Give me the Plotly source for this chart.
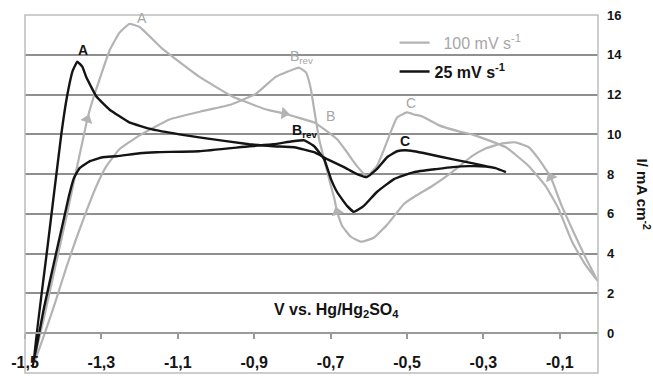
import plotly.graph_objects as go

# Cyclic voltammograms: potential (V vs. Hg/Hg2SO4) and current density (mA cm-2)
# 100 mV/s scan: forward sweep to 0 V, then the reverse sweep back to -1.48 V
v_100 = [-1.48, -1.45, -1.42, -1.39, -1.36, -1.337, -1.32, -1.305, -1.279,
         -1.253, -1.227, -1.20, -1.14, -1.044, -0.957, -0.869, -0.821, -0.795, -0.743,
         -0.709, -0.683, -0.657, -0.631, -0.605, -0.579, -0.56, -0.542, -0.526, -0.50,
         -0.482, -0.46, -0.416, -0.364, -0.33, -0.241, -0.181, -0.137, -0.103,
         -0.068, -0.035, 0.0,
         -0.03, -0.062, -0.095, -0.124, -0.155, -0.181, -0.216, -0.25, -0.293,
         -0.33, -0.382, -0.434, -0.482, -0.508, -0.552, -0.587, -0.62, -0.647, -0.67,
         -0.683, -0.69, -0.704, -0.717, -0.73, -0.743, -0.752, -0.764, -0.782, -0.80,
         -0.843, -0.895, -0.96, -1.04, -1.122, -1.20, -1.253, -1.287, -1.313, -1.34,
         -1.366, -1.392, -1.42, -1.45, -1.48]
i_100 = [-1.7, 0.8, 3.4, 6.0, 8.7, 10.75, 11.9, 12.75, 14.2,
         15.1, 15.55, 15.4, 14.3, 12.9, 11.9, 11.25, 11.05, 10.9, 10.6,
         10.15, 9.75, 9.1, 8.4, 7.9, 8.4, 9.25, 10.15, 10.85, 11.1,
         11.0, 10.9, 10.45, 10.15, 10.0, 9.35, 8.4, 7.4, 6.25,
         4.6, 3.5, 2.6,
         3.7, 5.0, 6.4, 7.85, 8.75, 9.35, 9.6, 9.55, 9.3,
         8.9, 8.1, 7.4, 6.85, 6.5, 5.45, 4.8, 4.6, 4.85, 5.4,
         6.1, 6.75, 7.75, 8.75, 9.75, 11.25, 12.3, 13.1, 13.35, 13.25,
         12.9, 12.05, 11.5, 11.15, 10.75, 9.95, 9.25, 8.4, 7.4, 6.1,
         4.75, 3.3, 1.6, -0.1, -1.7]

# 25 mV/s scan: forward sweep to -0.24 V, then the reverse sweep
v_25 = [-1.48, -1.44, -1.405, -1.39, -1.375, -1.363, -1.35, -1.34,
        -1.313, -1.279, -1.227, -1.167, -1.096, -1.044, -0.913, -0.85, -0.795, -0.743,
        -0.709, -0.665, -0.631, -0.605, -0.579, -0.552, -0.526, -0.505, -0.482, -0.442,
        -0.382, -0.33, -0.293, -0.268, -0.241,
        -0.268, -0.293, -0.338, -0.38, -0.424, -0.482, -0.534, -0.579, -0.613, -0.639,
        -0.657, -0.683, -0.699, -0.717, -0.743, -0.769, -0.80, -0.85, -0.913, -1.044,
        -1.157, -1.20, -1.26, -1.297, -1.33, -1.357, -1.372, -1.385, -1.40, -1.42,
        -1.45, -1.48]
i_25 = [-1.7, 4.5, 10.0, 11.9, 13.2, 13.65, 13.4, 12.9,
        11.9, 11.25, 10.6, 10.25, 10.0, 9.85, 9.5, 9.4, 9.35, 9.1,
        8.75, 8.35, 8.0, 7.85, 8.25, 8.85, 9.15, 9.2, 9.15, 9.0,
        8.75, 8.55, 8.4, 8.3, 8.1,
        8.3, 8.38, 8.4, 8.35, 8.25, 8.1, 7.75, 7.1, 6.4, 6.1,
        6.4, 7.1, 7.75, 8.75, 9.4, 9.7, 9.65, 9.5, 9.4, 9.15,
        9.1, 9.05, 8.9, 8.85, 8.65, 8.3, 7.8, 6.9, 5.6, 3.9,
        1.3, -1.7]

# Scan-direction arrows on the 100 mV/s curve (position and heading in degrees)
arrow_v = [-1.337, -0.821, -0.683, -0.124]
arrow_i = [10.75, 11.05, 6.1, 7.85]
arrow_heading = [19, 98, -16, -25]

# Peak labels
peak_text = ["A", "<b>A</b>", "B<sub>rev</sub>", "B", "<b>B<sub>rev</sub></b>", "C", "<b>C</b>"]
peak_v = [-1.193, -1.347, -0.777, -0.699, -0.769, -0.49, -0.505]
peak_i = [15.85, 14.25, 13.9, 10.9, 10.15, 11.6, 9.65]
peak_series = ["100", "25", "100", "100", "25", "100", "25"]

x_ticks = [-1.5, -1.3, -1.1, -0.9, -0.7, -0.5, -0.3, -0.1]
x_ticktext = ["-1,5", "-1,3", "-1,1", "-0,9", "-0,7", "-0,5", "-0,3", "-0,1"]
y_ticks = [-2, 0, 2, 4, 6, 8, 10, 12, 14, 16]

GRAY = "#b3b3b3"
BLACK = "#141414"
FONT = "Liberation Sans, Arial, sans-serif"

fig = go.Figure()

fig.add_trace(go.Scatter(
    x=v_100, y=i_100, mode="lines", line=dict(color=GRAY, width=2.2, shape="spline", smoothing=0.35),
    name="<span style='color:#a6a6a6'>  100 mV s<sup>-1</sup></span>", legendgroup="g100",
))
fig.add_trace(go.Scatter(
    x=v_25, y=i_25, mode="lines", line=dict(color=BLACK, width=2.4, shape="spline", smoothing=0.35),
    name="<b>25 mV s<sup>-1</sup></b>", legendgroup="g25",
))
fig.add_trace(go.Scatter(
    x=arrow_v, y=arrow_i, mode="markers", showlegend=False, hoverinfo="skip",
    marker=dict(symbol="triangle-up", size=11, color=GRAY, angle=arrow_heading),
))

for t, v, i, s in zip(peak_text, peak_v, peak_i, peak_series):
    fig.add_annotation(
        x=v, y=i, text=t, showarrow=False,
        font=dict(family=FONT, size=14, color="#a6a6a6" if s == "100" else BLACK),
    )

# Axis title for potential, drawn inside the plot above the zero line
fig.add_annotation(
    xref="paper", yref="paper", x=0.431, y=0.1425, xanchor="left",
    text="<b>V vs. Hg/Hg<sub>2</sub>SO<sub>4</sub></b>", showarrow=False,
    font=dict(family=FONT, size=16, color=BLACK),
)
# Current-density title, read top to bottom on the right
fig.add_annotation(
    xref="paper", yref="paper", x=1.061, y=0.5, xanchor="left", textangle=90,
    text="<b>I/ mA cm<sup>-2</sup></b>", showarrow=False,
    font=dict(family=FONT, size=15, color=BLACK),
)

# Light plot frame (drawn over the outer gridlines) and the darker 4 mA cm-2 gridline
fig.add_shape(type="rect", xref="paper", yref="paper", x0=0, x1=1, y0=0, y1=1,
              line=dict(color="#bdbdbd", width=1.5), layer="above")
fig.add_shape(type="line", xref="paper", yref="y", x0=0, x1=1, y0=y_ticks[3], y1=y_ticks[3],
              line=dict(color="#202020", width=1.5), layer="below")

fig.update_layout(
    width=653, height=380,
    margin=dict(l=25, r=55, t=15, b=7),
    paper_bgcolor="white", plot_bgcolor="white",
    font=dict(family=FONT, color=BLACK),
    showlegend=True,
    legend=dict(
        x=0.645, y=0.97, xanchor="left", yanchor="top",
        bgcolor="rgba(0,0,0,0)", font=dict(family=FONT, size=16, color=BLACK),
        tracegroupgap=5, itemwidth=30,
    ),
    xaxis=dict(
        range=[-1.5, 0.0], anchor="free", position=2 / 18,
        tickvals=x_ticks, ticktext=x_ticktext,
        ticks="outside", ticklen=5, tickcolor="#9a9a9a", tickwidth=1.5,
        showline=True, linecolor="#9a9a9a", linewidth=1.5,
        showgrid=False, zeroline=False,
        tickfont=dict(family=FONT, size=16, color=BLACK, weight="bold"),
        ticklabelstandoff=10,
    ),
    yaxis=dict(
        range=[-2, 16], side="right", tickvals=y_ticks,
        showgrid=True, gridcolor="#8f8f8f", gridwidth=1.5,
        zeroline=False, showline=False, ticks="",
        tickfont=dict(family=FONT, size=13, color=BLACK, weight="bold"),
        ticklabelstandoff=8,
    ),
)

fig.write_html("out.html")
